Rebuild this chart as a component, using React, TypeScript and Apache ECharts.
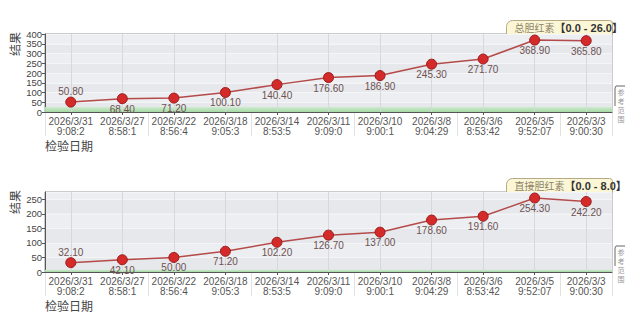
import React, { useEffect, useRef } from "react";
import * as echarts from "echarts";

const categories = [
  "2026/3/31\n9:08:2",
  "2026/3/27\n8:58:1",
  "2026/3/22\n8:56:4",
  "2026/3/18\n9:05:3",
  "2026/3/14\n8:53:5",
  "2026/3/11\n9:09:0",
  "2026/3/10\n9:00:1",
  "2026/3/8\n9:04:29",
  "2026/3/6\n8:53:42",
  "2026/3/5\n9:52:07",
  "2026/3/3\n9:00:30",
];
const totalBilirubin = [50.8, 68.4, 71.2, 100.1, 140.4, 176.6, 186.9, 245.3, 271.7, 368.9, 365.8];
const directBilirubin = [32.1, 42.1, 50.0, 71.2, 102.2, 126.7, 137.0, 178.6, 191.6, 254.3, 242.2];
const totalRange = [0, 26];
const directRange = [0, 8];
const totalTitle = "总胆红素";
const directTitle = "直接胆红素";
const yName = "结果";
const xName = "检验日期";
const tabText = "参考范围";

const FONT = "'Liberation Sans', Arial, 'Noto Sans CJK SC', sans-serif";
const CJK = "'Noto Sans CJK SC', sans-serif";

export default function App() {
  const ref = useRef<HTMLDivElement>(null);
  useEffect(() => {
    document.body.style.margin = "0";
    const chart = echarts.init(ref.current!, null, { renderer: "svg" });
    const grids = [
      { left: 45, top: 34, width: 567, height: 78 },
      { left: 45, top: 192, width: 567, height: 80 },
    ];
    const yMax = [400, 275];
    const values = [totalBilirubin, directBilirubin];
    const ranges = [totalRange, directRange];
    const titles = [totalTitle, directTitle];

    const xAxis: any[] = [];
    const yAxis: any[] = [];
    const series: any[] = [];
    const graphic: any[] = [];

    grids.forEach((g, i) => {
      xAxis.push({
        type: "category",
        gridIndex: i,
        data: categories,
        boundaryGap: true,
        axisLine: { show: true, lineStyle: { color: "#555", width: 1 } },
        axisTick: { show: true, alignWithLabel: true, length: 3, lineStyle: { color: "#555" } },
        axisLabel: {
          color: "#555",
          fontSize: 10,
          lineHeight: 10,
          margin: 4,
          fontFamily: FONT,
          interval: 0,
          hideOverlap: false,
        },
        splitLine: { show: true, alignWithLabel: true, lineStyle: { color: "#d6d8dc", width: 1 } },
        z: 3,
      });
      xAxis.push({
        type: "category",
        gridIndex: i,
        data: categories,
        boundaryGap: true,
        position: "bottom",
        axisLine: { show: false },
        axisTick: { show: true, length: 24, lineStyle: { color: "#e2e2e2" } },
        axisLabel: { show: false },
        splitLine: { show: false },
      });
      yAxis.push({
        type: "value",
        gridIndex: i,
        min: 0,
        max: yMax[i],
        interval: 50,
        axisLine: { show: true, lineStyle: { color: "#555" } },
        axisTick: { show: true, length: 3, lineStyle: { color: "#555" } },
        axisLabel: {
          color: "#444",
          fontSize: 9.5,
          lineHeight: 9,
          margin: 3,
          fontFamily: FONT,
          interval: 0,
          showMaxLabel: i === 0,
          showMinLabel: true,
          hideOverlap: false,
        },
        splitLine: { show: true, lineStyle: { color: "#f4f5f7", width: 1 } },
        splitArea: { show: true, areaStyle: { color: ["#e6e8ec", "#eceef1"] } },
      });
      series.push({
        type: "line",
        xAxisIndex: i * 2,
        yAxisIndex: i,
        data: values[i].map((v, k) =>
          k === 0
            ? { value: v, label: { position: "top", distance: 0 } }
            : { value: v }
        ),
        symbol: "circle",
        symbolSize: 10,
        lineStyle: { color: "#b54a4a", width: 1.5 },
        itemStyle: { color: "#d42a2a", borderColor: "#9a1c1c", borderWidth: 1 },
        label: {
          show: true,
          position: "bottom",
          distance: 0,
          color: "#6e5252",
          fontSize: 10,
          lineHeight: 10,
          fontFamily: FONT,
          formatter: (p: any) => Number(p.value).toFixed(2),
        },
        labelLayout: { hideOverlap: false },
        markArea: {
          silent: true,
          itemStyle: {
            color: new echarts.graphic.LinearGradient(0, 0, 0, 1, [
              { offset: 0, color: "rgba(205,235,205,0.9)" },
              { offset: 1, color: "rgba(160,215,160,0.95)" },
            ]),
          },
          data: [[{ yAxis: ranges[i][0] }, { yAxis: ranges[i][1] }]],
        },
        z: 5,
      });

      const top = g.top;
      const right = g.left + g.width;
      // title tab
      graphic.push({
        type: "group",
        left: right - 106,
        top: top - 14,
        children: [
          {
            type: "rect",
            shape: { x: 0, y: 0, width: 106, height: 14, r: [6, 3, 0, 0] },
            style: { fill: "#fbf6d6", stroke: "#b5aa85", lineWidth: 1 },
          },
          {
            type: "text",
            x: 8,
            y: 7,
            style: {
              text: "{a|" + titles[i] + "}{b|【" + ranges[i][0].toFixed(1) + " - " + ranges[i][1].toFixed(1) + "】}",
              verticalAlign: "middle",
              rich: {
                a: { fontSize: 10, fill: "#8f8466", fontFamily: CJK },
                b: { fontSize: 11, fill: "#333", fontWeight: "bold", fontFamily: FONT },
              },
            },
          },
        ],
      });
      // y axis name
      graphic.push({
        type: "text",
        x: 14,
        y: top + 10,
        rotation: Math.PI / 2,
        style: {
          text: yName,
          fontSize: 12,
          fill: "#444",
          fontFamily: CJK,
          align: "center",
          verticalAlign: "middle",
        },
      });
      // x axis name
      graphic.push({
        type: "text",
        x: 45,
        y: top + g.height + 33,
        style: {
          text: xName,
          fontSize: 12,
          lineHeight: 12,
          fill: "#444",
          fontFamily: CJK,
          align: "left",
          verticalAlign: "middle",
        },
      });
      // right tab
      const ty = top + g.height - 24;
      graphic.push({
        type: "polyline",
        shape: { points: [[625, ty - 2], [616, ty - 2], [615, ty], [615, ty + 18]] },
        style: { stroke: "#666", lineWidth: 1, fill: null },
      });
      graphic.push({
        type: "text",
        x: 621,
        y: ty + 17,
        style: {
          text: tabText.split("").join("\n"),
          fontSize: 7,
          lineHeight: 9,
          fill: "#9a9a9a",
          fontFamily: CJK,
          align: "center",
          verticalAlign: "middle",
        },
      });
    });

    chart.setOption({
      animation: false,
      backgroundColor: "#ffffff",
      grid: grids.map((g) => ({
        ...g,
        show: true,
        borderColor: "#999",
        borderWidth: 1,
        backgroundColor: "transparent",
      })),
      xAxis,
      yAxis,
      series,
      graphic,
    });
    return () => chart.dispose();
  }, []);
  return (
    <div
      ref={ref}
      style={{ position: "absolute", left: 0, top: 0, width: 640, height: 329 }}
    />
  );
}
